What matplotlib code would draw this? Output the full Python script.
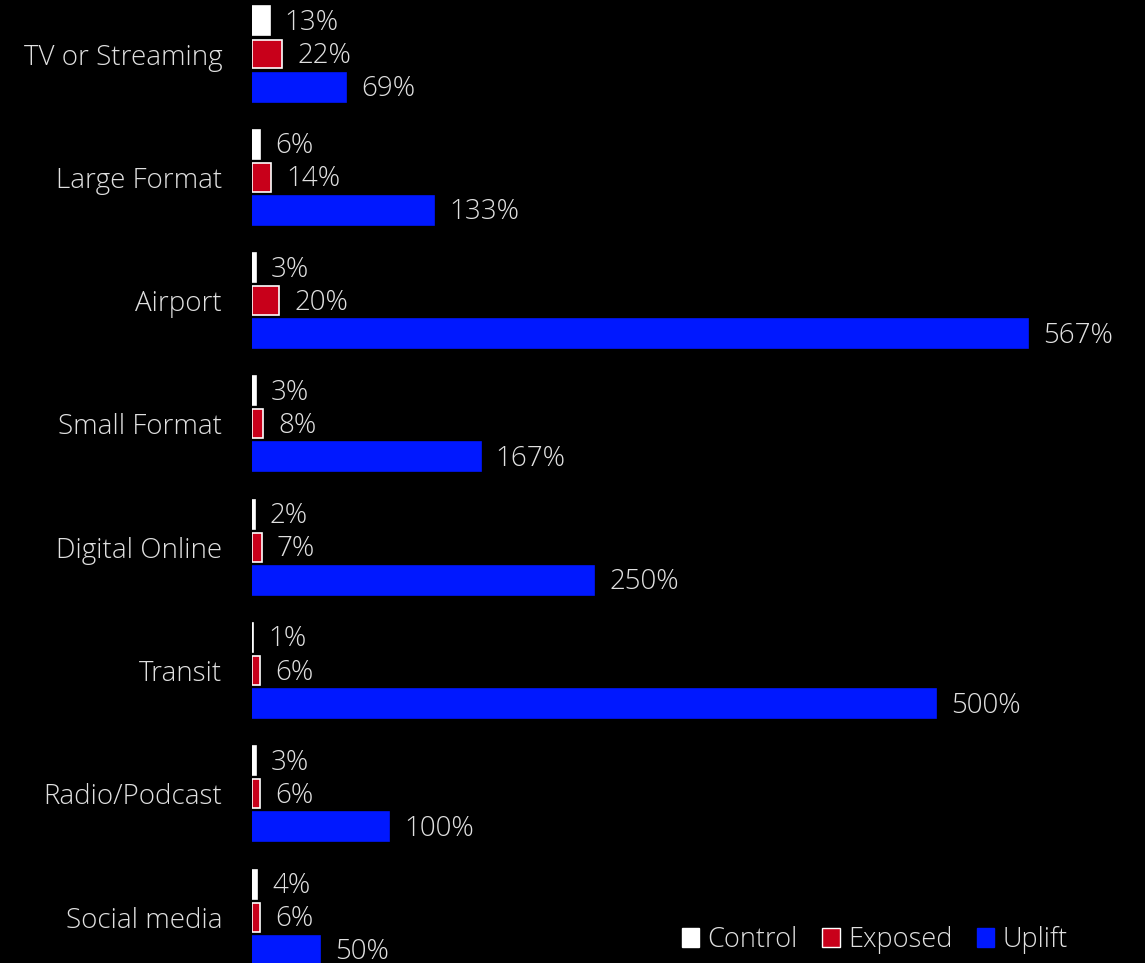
import matplotlib
matplotlib.use("Agg")
import matplotlib.pyplot as plt
from matplotlib.patches import Patch

categories = ["TV or Streaming", "Large Format", "Airport", "Small Format",
              "Digital Online", "Transit", "Radio/Podcast", "Social media"]
control = [13, 6, 3, 3, 2, 1, 3, 4]
exposed = [22, 14, 20, 8, 7, 6, 6, 6]
uplift = [69, 133, 567, 167, 250, 500, 100, 50]

FONT = "Open Sans"
WEIGHT = "light"
FS = 20
TXT = "#e0e0e0"
W, H = 1145, 963
fig = plt.figure(figsize=(W / 100, H / 100), dpi=100, facecolor="black")
ax = fig.add_axes([252 / W, 0, (W - 252) / W, 1], facecolor="black")

bh = 0.235
off = 0.268
ys = list(range(len(categories)))
series = [
    (control, -off, "white", "white", "Control"),
    (exposed, 0, "#c8001a", "white", "Exposed"),
    (uplift, off, "#0018ff", "#0018ff", "Uplift"),
]
for vals, o, fc, ec, name in series:
    pos = [y + o for y in ys]
    ax.barh(pos, vals, height=bh, color=fc, edgecolor=ec, linewidth=1.2)
    for p, v in zip(pos, vals):
        ax.annotate(f"{v}%", (v, p), xytext=(15, -2), textcoords="offset pixels",
                    va="center", ha="left", color=TXT, fontsize=FS,
                    family=FONT, weight=WEIGHT, annotation_clip=False)

ax.set_xlim(0, (W - 252) / 1.369)
ax.set_ylim(7.372, -0.438)
ax.set_yticks(ys)
ax.set_yticklabels(categories, color=TXT, fontsize=FS, family=FONT, weight=WEIGHT)
ax.tick_params(axis="y", length=0, pad=21.5)
ax.set_xticks([])
for s in ax.spines.values():
    s.set_visible(False)

handles = [Patch(facecolor="white", edgecolor="white"),
           Patch(facecolor="#c8001a", edgecolor="white"),
           Patch(facecolor="#0018ff", edgecolor="#0018ff")]
leg = fig.legend(handles, ["Control", "Exposed", "Uplift"], ncol=3,
                 loc="center right", bbox_to_anchor=(1092 / W, 1 - 940 / H),
                 frameon=False, handlelength=0.65, handleheight=0.65,
                 handletextpad=0.3, columnspacing=0.9,
                 prop={"family": FONT, "size": 19.5, "weight": WEIGHT})
for t in leg.get_texts():
    t.set_color(TXT)

fig.savefig("out.png", dpi=100, facecolor="black")
